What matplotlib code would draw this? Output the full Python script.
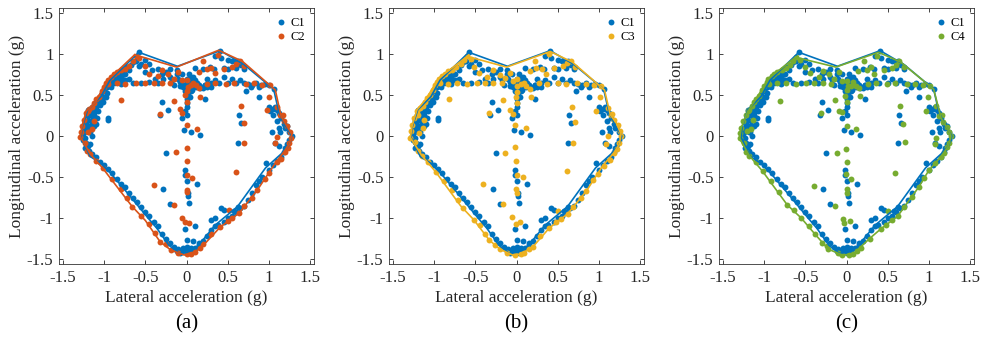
import matplotlib
matplotlib.use("Agg")
import matplotlib.pyplot as plt
import numpy as np

plt.rcParams['font.family'] = 'serif'
plt.rcParams['font.serif'] = ['Liberation Serif', 'Times New Roman', 'DejaVu Serif']
plt.rcParams['axes.unicode_minus'] = False

# ---------------- data ----------------
ticks = [-1.5, -1, -0.5, 0, 0.5, 1, 1.5]
tick_labels = ['-1.5', '-1', '-0.5', '0', '0.5', '1', '1.5']
panel_labels = ['(a)', '(b)', '(c)']
series_names = ['C1', 'C2', 'C3', 'C4']
colors = ['#0072BD', '#D95319', '#EDB120', '#77AC30']

c1_pts = [
    # left boundary cluster
    (-1.27, 0.0), (-1.26, -0.05), (-1.25, 0.05), (-1.24, 0.10), (-1.23, -0.02), (-1.22, 0.15),
    (-1.21, 0.08), (-1.2, 0.2), (-1.19, 0.12), (-1.18, 0.25), (-1.2, -0.12), (-1.18, -0.18),
    (-1.22, -0.08), (-1.17, 0.05), (-1.16, 0.18), (-1.15, 0.28), (-1.14, 0.22), (-1.13, 0.32),
    (-1.12, 0.12), (-1.1, 0.35), (-1.08, 0.40), (-1.06, 0.45), (-1.05, 0.38), (-1.04, 0.50),
    (-1.02, 0.42), (-1.0, 0.55), (-0.98, 0.48), (-0.97, 0.60), (-0.95, 0.62), (-0.93, 0.68),
    (-0.96, 0.22), (-1.18, 0.30), (-1.24, -0.15), (-1.12, 0.25), (-1.07, 0.30), (-1.2, 0.32),
    (-1.1, 0.15), (-1.15, 0.0), (-1.0, 0.48), (-0.99, 0.58),
    (-1.26, 0.02), (-1.23, 0.18), (-1.21, 0.25), (-1.19, 0.05), (-1.17, -0.10), (-1.15, 0.12),
    (-1.11, 0.30), (-1.09, 0.22), (-1.03, 0.45), (-0.97, 0.52), (-0.92, 0.60), (-0.88, 0.65),
    # upper left
    (-0.9, 0.72), (-0.88, 0.70), (-0.85, 0.75), (-0.82, 0.78), (-0.8, 0.72), (-0.78, 0.80),
    (-0.75, 0.76), (-0.72, 0.84), (-0.7, 0.80), (-0.68, 0.86), (-0.65, 0.90), (-0.62, 0.92),
    (-0.58, 1.02), (-0.55, 0.88), (-0.5, 0.93), (-0.85, 0.68), (-0.8, 0.66), (-0.75, 0.68),
    (-0.7, 0.70), (-0.86, 0.72), (-0.78, 0.74),
    # top interior
    (-0.58, 0.85), (-0.5, 0.78), (-0.45, 0.88), (-0.42, 0.80), (-0.38, 0.70), (-0.35, 0.82),
    (-0.3, 0.75), (-0.28, 0.70), (-0.25, 0.78), (-0.2, 0.72), (-0.18, 0.68), (-0.15, 0.62),
    (-0.12, 0.75), (-0.1, 0.70), (-0.08, 0.66), (-0.05, 0.76), (-0.2, 0.82), (-0.12, 0.80),
    (-0.9, 0.64), (-0.8, 0.63), (-0.65, 0.64), (-0.55, 0.65), (-0.45, 0.66), (-0.35, 0.64),
    # central cluster
    (0.0, 0.60), (0.02, 0.62), (0.04, 0.58), (0.01, 0.65), (0.03, 0.70), (0.05, 0.55),
    (0.02, 0.50), (0.0, 0.45), (0.01, 0.40), (0.06, 0.62), (0.08, 0.60), (0.10, 0.63),
    (0.12, 0.60), (0.15, 0.62), (0.18, 0.60), (0.20, 0.58), (-0.02, 0.62), (-0.04, 0.60),
    (0.05, 0.68), (0.08, 0.72), (0.10, 0.68), (0.03, 0.75), (-0.02, 0.55), (0.0, 0.35),
    (0.04, 0.48), (0.07, 0.56), (0.02, 0.58), (0.06, 0.66), (0.13, 0.65), (0.16, 0.58),
    (-0.06, 0.63), (-0.08, 0.61), (0.22, 0.62), (0.25, 0.60), (0.0, 0.52), (0.01, 0.70),
    (0.03, 0.64), (0.05, 0.60),
    # vertical stalk / interior
    (-0.05, 0.22), (0.0, 0.25), (-0.02, 0.30), (0.05, 0.05), (-0.03, 0.07), (-0.02, -0.42),
    (-0.02, -0.47), (0.0, -0.55), (0.02, -0.70), (0.02, -0.73), (0.03, -0.82), (-0.02, -1.13),
    (0.10, -1.10), (0.0, -1.27), (0.13, -0.58), (-0.30, 0.42), (-0.32, 0.25), (-0.22, 0.32),
    (-0.28, -0.65), (-0.25, -0.21), (-0.20, -0.83), (0.17, 0.01), (0.22, 0.45), (-0.95, 0.20),
    # right top
    (0.35, 0.98), (0.42, 0.95), (0.50, 0.93), (0.55, 0.92), (0.60, 0.90), (0.62, 0.92),
    (0.64, 0.88), (0.66, 0.87), (0.41, 1.04), (0.10, 0.83), (0.20, 0.82), (0.28, 0.84),
    (0.33, 0.82), (0.45, 0.83), (0.50, 0.82), (0.60, 0.83), (0.70, 0.82), (0.25, 0.70),
    (0.35, 0.68), (0.45, 0.72), (0.55, 0.70), (0.65, 0.68), (0.30, 0.65), (0.40, 0.64),
    (0.50, 0.64), (0.60, 0.65), (0.70, 0.64), (0.75, 0.63), (0.80, 0.62), (0.85, 0.64),
    (0.90, 0.62), (0.95, 0.63), (1.00, 0.62), (0.30, 0.60), (0.22, 0.62), (0.72, 0.55),
    (0.78, 0.60), (0.88, 0.60), (0.88, 0.48), (1.06, 0.57),
    # right columns / boundary
    (0.64, 0.26), (0.66, 0.16), (0.63, -0.09), (1.04, 0.05), (1.07, -0.09),
    (1.00, 0.35), (1.02, 0.30), (1.05, 0.33), (1.08, 0.35), (1.10, 0.32), (1.12, 0.28),
    (1.05, 0.25), (1.15, 0.22), (1.10, 0.18), (1.18, 0.15), (1.20, 0.10), (1.22, 0.12),
    (1.25, 0.05), (1.28, 0.0), (1.24, -0.05), (1.22, -0.10), (1.20, -0.15), (1.18, -0.20),
    (1.15, -0.25), (1.12, 0.10), (1.14, 0.05), (1.12, -0.12),
    # lower right boundary
    (1.10, -0.30), (1.05, -0.35), (1.00, -0.42), (0.97, -0.33), (0.92, -0.50), (0.88, -0.55),
    (0.85, -0.60), (0.80, -0.70), (0.75, -0.78), (0.70, -0.85), (0.65, -0.88), (0.60, -0.93),
    (0.55, -0.98), (0.50, -1.00), (0.45, -1.05), (0.38, -1.08), (0.35, -1.10), (0.30, -1.15),
    (0.25, -1.22), (0.20, -1.28), (0.15, -1.33), (0.10, -1.37), (0.06, -1.40), (0.42, -0.88),
    (0.45, -0.90), (0.58, -0.92), (0.35, -1.00), (0.30, -1.02), (0.62, -0.86),
    # bottom
    (0.0, -1.42), (0.02, -1.40), (-0.02, -1.38), (-0.05, -1.40), (-0.08, -1.42), (-0.10, -1.38),
    (0.05, -1.36), (-0.15, -1.35), (0.0, -1.35), (0.08, -1.28), (0.15, -1.30), (-0.12, -1.40),
    (0.04, -1.42), (-0.04, -1.36),
    # lower left boundary
    (-0.20, -1.30), (-0.25, -1.26), (-0.30, -1.20), (-0.35, -1.10), (-0.40, -1.05),
    (-0.45, -0.98), (-0.50, -0.93), (-0.55, -0.87), (-0.60, -0.80), (-0.65, -0.75),
    (-0.70, -0.70), (-0.75, -0.62), (-0.80, -0.58), (-0.85, -0.52), (-0.90, -0.45),
    (-0.95, -0.40), (-1.00, -0.35), (-1.05, -0.32), (-1.10, -0.26), (-1.15, -0.22),
]

c2_pts = [
    (-1.29, -0.01), (-1.28, 0.05), (-1.27, 0.12), (-1.25, 0.20), (-1.24, -0.08), (-1.22, 0.28),
    (-1.20, 0.30), (-1.21, -0.18), (-1.18, 0.33), (-1.15, 0.35), (-1.12, 0.40), (-1.10, 0.45),
    (-1.06, 0.48), (-1.03, 0.55), (-1.00, 0.60), (-0.98, 0.65), (-0.95, 0.68), (-0.92, 0.72),
    (-0.88, 0.75), (-0.85, 0.78), (-0.80, 0.80), (-0.75, 0.82), (-0.70, 0.85), (-0.65, 0.92),
    (-0.62, 0.98), (-0.58, 0.95), (-0.80, 0.44), (-1.15, 0.08), (-1.20, 0.05), (-1.13, 0.18),
    (-0.95, 0.63), (-0.85, 0.64), (-0.75, 0.63), (-0.62, 0.64), (-0.50, 0.65), (-0.40, 0.64),
    (-0.30, 0.65), (-0.20, 0.64), (0.25, 0.63), (0.35, 0.64), (0.48, 0.63), (0.58, 0.64),
    (0.72, 0.63), (0.82, 0.64), (0.92, 0.62), (1.02, 0.62),
    (-0.50, 0.85), (-0.45, 0.76), (-0.35, 0.73), (-0.30, 0.80), (-0.22, 0.75), (-0.15, 0.70),
    (-0.10, 0.78), (-0.05, 0.68), (0.0, 0.55), (0.02, 0.60), (0.05, 0.62), (0.0, 0.68),
    (0.08, 0.65), (-0.02, 0.50), (0.0, 0.42), (0.12, 0.62), (0.15, 0.58), (0.25, 0.82),
    (0.30, 0.83), (0.35, 0.77), (0.45, 0.82), (0.55, 0.84), (0.60, 0.88), (0.65, 0.92),
    (0.70, 0.85), (0.15, 0.78), (0.20, 0.92), (0.38, 0.99),
    (-0.15, 0.43), (0.17, 0.48), (-0.32, 0.27), (-0.08, 0.33), (-0.05, 0.28), (0.13, 0.09),
    (0.0, 0.13), (0.0, -0.15), (0.0, -0.31), (-0.13, -0.20), (0.0, -0.47), (0.07, -0.51),
    (-0.40, -0.60), (-0.15, -0.84), (0.0, -0.66), (0.0, -0.68), (-0.05, -1.00), (0.03, -1.06),
    (-0.02, -1.05),
    (0.66, 0.36), (0.70, 0.16), (0.70, -0.09), (0.60, -0.44), (1.00, 0.48), (0.98, 0.32),
    (1.17, 0.26), (1.10, -0.01), (1.08, -0.09),
    (1.10, 0.35), (1.14, 0.25), (1.18, 0.18), (1.22, 0.12), (1.26, 0.05), (1.27, -0.02),
    (1.25, -0.08), (1.23, -0.15), (1.20, -0.20), (1.15, -0.28),
    (1.10, -0.32), (1.00, -0.45), (0.95, -0.52), (0.86, -0.66), (0.80, -0.75), (0.70, -0.85),
    (0.64, -0.94), (0.55, -1.00), (0.50, -1.03), (0.41, -1.11), (0.30, -1.20), (0.20, -1.32),
    (0.17, -1.37), (0.10, -1.41), (0.05, -1.44), (0.52, -0.90),
    (-1.02, -0.39), (-0.90, -0.52), (-0.80, -0.65), (-0.72, -0.75), (-0.66, -0.86),
    (-0.55, -0.97), (-0.45, -1.07), (-0.38, -1.18), (-0.32, -1.29), (-0.25, -1.32),
    (-0.19, -1.39), (-0.10, -1.42), (0.0, -1.44), (-1.10, -0.30), (-1.17, -0.22),
]

c3_pts = [
    (-1.29, -0.02), (-1.28, 0.06), (-1.27, 0.13), (-1.25, 0.22), (-1.24, -0.07), (-1.21, 0.30),
    (-1.20, 0.25), (-1.20, -0.18), (-1.17, 0.34), (-1.14, 0.36), (-1.11, 0.42), (-1.09, 0.46),
    (-1.05, 0.50), (-1.02, 0.56), (-0.99, 0.62), (-0.97, 0.66), (-0.94, 0.70), (-0.90, 0.73),
    (-0.87, 0.76), (-0.83, 0.79), (-0.78, 0.81), (-0.73, 0.84), (-0.68, 0.88), (-0.64, 0.93),
    (-0.60, 0.97), (-0.55, 0.94), (-0.82, 0.45), (-1.14, 0.10), (-1.19, 0.04), (-1.12, 0.20),
    (-0.93, 0.64), (-0.83, 0.63), (-0.72, 0.64), (-0.60, 0.63), (-0.48, 0.65), (-0.38, 0.64),
    (-0.28, 0.64), (-0.18, 0.65), (0.27, 0.64), (0.37, 0.63), (0.50, 0.64), (0.60, 0.63),
    (0.74, 0.64), (0.84, 0.63), (0.94, 0.62), (1.03, 0.61),
    (-0.52, 0.84), (-0.46, 0.77), (-0.36, 0.72), (-0.28, 0.81), (-0.20, 0.74), (-0.14, 0.71),
    (-0.08, 0.77), (-0.04, 0.67), (0.0, 0.54), (0.01, 0.61), (0.05, 0.63), (0.0, 0.69),
    (0.09, 0.64), (-0.01, 0.48), (0.0, 0.40), (0.11, 0.61), (0.16, 0.57), (0.24, 0.83),
    (0.31, 0.82), (0.36, 0.76), (0.46, 0.83), (0.56, 0.85), (0.61, 0.89), (0.66, 0.91),
    (0.71, 0.84), (0.16, 0.79), (0.22, 0.91), (0.39, 1.00),
    (-0.16, 0.44), (0.18, 0.47), (-0.33, 0.28), (-0.08, 0.32), (-0.04, 0.27), (0.12, 0.10),
    (-0.02, 0.14), (-0.02, -0.14), (-0.01, -0.30), (-0.14, -0.21), (0.0, -0.48), (0.08, -0.50),
    (-0.41, -0.58), (-0.16, -0.83), (-0.01, -0.65), (0.0, -0.70), (-0.06, -0.99), (0.04, -1.05),
    (-0.01, -1.07),
    (0.67, 0.35), (0.71, 0.17), (0.69, -0.08), (0.61, -0.43), (1.01, 0.47), (0.97, 0.30),
    (1.16, 0.27), (1.11, 0.0), (1.09, -0.10),
    (1.11, 0.34), (1.15, 0.26), (1.19, 0.19), (1.23, 0.13), (1.26, 0.06), (1.27, 0.0),
    (1.25, -0.09), (1.22, -0.16), (1.19, -0.21), (1.14, -0.29),
    (1.06, -0.36), (0.99, -0.46), (0.93, -0.54), (0.85, -0.67), (0.78, -0.76), (0.69, -0.86),
    (0.62, -0.95), (0.54, -1.01), (0.48, -1.05), (0.40, -1.12), (0.29, -1.22), (0.20, -1.35),
    (0.15, -1.38), (0.09, -1.42), (0.05, -1.44), (0.50, -0.92),
    (-0.98, -0.44), (-0.88, -0.55), (-0.79, -0.66), (-0.71, -0.78), (-0.65, -0.88),
    (-0.52, -1.02), (-0.44, -1.09), (-0.38, -1.19), (-0.33, -1.27), (-0.26, -1.33),
    (-0.20, -1.38), (-0.11, -1.42), (-0.02, -1.45), (-1.08, -0.32), (-1.15, -0.24),
]

c4_pts = [
    (-1.30, -0.03), (-1.29, 0.04), (-1.28, 0.10), (-1.26, 0.18), (-1.25, -0.08), (-1.22, 0.26),
    (-1.20, 0.30), (-1.22, -0.19), (-1.18, 0.32), (-1.15, 0.36), (-1.12, 0.41), (-1.10, 0.45),
    (-1.06, 0.49), (-1.03, 0.56), (-1.00, 0.61), (-0.97, 0.66), (-0.95, 0.70), (-0.91, 0.73),
    (-0.88, 0.76), (-0.84, 0.78), (-0.79, 0.80), (-0.74, 0.83), (-0.69, 0.86), (-0.65, 0.91),
    (-0.62, 0.96), (-0.57, 0.93), (-0.81, 0.43), (-1.16, 0.09), (-1.21, 0.06), (-1.14, 0.19),
    (-0.94, 0.63), (-0.84, 0.64), (-0.74, 0.64), (-0.61, 0.63), (-0.49, 0.64), (-0.39, 0.65),
    (-0.29, 0.64), (-0.19, 0.63), (0.26, 0.63), (0.36, 0.64), (0.49, 0.63), (0.59, 0.64),
    (0.73, 0.63), (0.83, 0.63), (0.93, 0.62), (1.02, 0.61),
    (-0.51, 0.84), (-0.44, 0.77), (-0.34, 0.72), (-0.29, 0.79), (-0.21, 0.76), (-0.15, 0.69),
    (-0.09, 0.78), (-0.05, 0.67), (0.0, 0.56), (0.02, 0.61), (0.05, 0.61), (0.0, 0.67),
    (0.08, 0.66), (-0.02, 0.49), (0.0, 0.41), (0.12, 0.61), (0.15, 0.59), (0.25, 0.81),
    (0.30, 0.84), (0.34, 0.76), (0.45, 0.81), (0.55, 0.83), (0.60, 0.87), (0.64, 0.91),
    (0.70, 0.84), (0.14, 0.79), (0.21, 0.91), (0.37, 0.98),
    (-0.14, 0.44), (0.16, 0.49), (-0.31, 0.28), (-0.09, 0.31), (-0.06, 0.29), (0.12, 0.08),
    (0.0, 0.12), (-0.01, -0.16), (0.0, -0.32), (-0.12, -0.21), (-0.01, -0.46), (0.06, -0.52),
    (-0.40, -0.61), (-0.14, -0.85), (0.0, -0.64), (0.01, -0.69), (-0.04, -1.01), (0.04, -1.04),
    (-0.03, -1.06),
    (0.65, 0.37), (0.69, 0.15), (0.71, -0.07), (0.59, -0.45), (0.99, 0.47), (0.97, 0.31),
    (1.16, 0.25), (1.09, -0.02), (1.07, -0.10),
    (1.09, 0.36), (1.13, 0.24), (1.17, 0.17), (1.22, 0.11), (1.25, 0.05), (1.27, 0.0),
    (1.24, -0.09), (1.22, -0.14), (1.19, -0.21), (1.15, -0.26),
    (1.08, -0.33), (1.00, -0.42), (0.94, -0.51), (0.88, -0.62), (0.80, -0.74), (0.70, -0.87),
    (0.62, -0.98), (0.55, -1.02), (0.48, -1.08), (0.42, -1.13), (0.28, -1.25), (0.18, -1.36),
    (0.13, -1.40), (0.08, -1.44), (0.03, -1.45), (0.51, -0.91),
    (-1.02, -0.43), (-0.92, -0.55), (-0.82, -0.68), (-0.72, -0.84), (-0.64, -0.90),
    (-0.55, -1.00), (-0.46, -1.10), (-0.38, -1.20), (-0.30, -1.30), (-0.24, -1.34),
    (-0.22, -1.38), (-0.10, -1.43), (-0.05, -1.45), (-1.10, -0.32), (-1.18, -0.24),
]

c1_env = [(-0.58, 1.02), (-0.11, 0.85), (0.41, 1.04), (0.70, 0.87), (1.06, 0.57), (1.12, 0.30),
          (1.20, 0.13), (1.28, 0.0), (1.24, -0.12), (1.16, -0.21), (0.96, -0.39), (0.62, -0.86),
          (0.35, -1.085), (0.23, -1.23), (0.15, -1.33), (0.07, -1.39), (0.0, -1.42), (-0.09, -1.43),
          (-0.215, -1.33), (-0.36, -1.125), (-0.50, -0.96), (-0.68, -0.74), (-0.92, -0.455),
          (-1.045, -0.33), (-1.17, -0.25), (-1.28, -0.02), (-1.27, 0.10), (-1.20, 0.32),
          (-1.04, 0.48), (-0.93, 0.68), (-0.58, 1.02)]
c2_env = [(-0.63, 0.99), (-0.12, 0.84), (0.39, 1.045), (0.68, 0.91), (1.08, 0.56), (1.15, 0.24),
          (1.22, 0.12), (1.28, 0.02), (1.25, -0.10), (1.18, -0.20), (1.08, -0.33), (0.86, -0.66),
          (0.64, -0.94), (0.41, -1.11), (0.17, -1.37), (0.05, -1.44), (-0.03, -1.45), (-0.19, -1.39),
          (-0.32, -1.29), (-0.50, -1.03), (-0.66, -0.86), (-1.02, -0.39), (-1.17, -0.22),
          (-1.29, -0.01), (-1.27, 0.12), (-1.22, 0.30), (-1.10, 0.42), (-0.98, 0.66), (-0.63, 0.99)]
c3_env = [(-0.60, 0.97), (-0.12, 0.84), (0.41, 1.03), (0.68, 0.90), (1.07, 0.56), (1.14, 0.26),
          (1.22, 0.15), (1.27, 0.02), (1.25, -0.10), (1.18, -0.21), (1.05, -0.36), (0.85, -0.67),
          (0.62, -0.95), (0.40, -1.12), (0.20, -1.35), (0.05, -1.44), (-0.05, -1.45), (-0.20, -1.38),
          (-0.33, -1.27), (-0.52, -1.02), (-0.68, -0.85), (-0.98, -0.44), (-1.15, -0.24),
          (-1.29, -0.02), (-1.27, 0.12), (-1.21, 0.32), (-1.10, 0.45), (-0.95, 0.70), (-0.60, 0.97)]
c4_env = [(-0.62, 0.96), (-0.13, 0.84), (0.39, 1.02), (0.66, 0.90), (1.06, 0.57), (1.15, 0.22),
          (1.25, 0.05), (1.27, 0.0), (1.24, -0.12), (1.15, -0.25), (1.00, -0.42), (0.88, -0.62),
          (0.62, -0.98), (0.42, -1.13), (0.28, -1.25), (0.08, -1.44), (-0.05, -1.45), (-0.22, -1.38),
          (-0.38, -1.20), (-0.55, -1.00), (-0.72, -0.84), (-1.02, -0.43), (-1.18, -0.24),
          (-1.30, -0.03), (-1.28, 0.10), (-1.20, 0.30), (-1.10, 0.45), (-0.95, 0.70), (-0.62, 0.96)]

others = [(c2_pts, c2_env), (c3_pts, c3_env), (c4_pts, c4_env)]

# ---------------- plot ----------------
W, H = 982, 338
fig = plt.figure(figsize=(W / 100, H / 100), dpi=100)
lefts = [59, 389, 719]
ax_w, ax_top, ax_bot = 255, 8, 264
axcol = '#262626'

for i, (pts, env) in enumerate(others):
    ax = fig.add_axes([lefts[i] / W, (H - ax_bot) / H, ax_w / W, (ax_bot - ax_top) / H])
    p1 = np.array(c1_pts)
    p2 = np.array(pts)
    e1 = np.array(c1_env)
    e2 = np.array(env)
    ax.scatter(p1[:, 0], p1[:, 1], s=18, color=colors[0], linewidths=0, label=series_names[0], zorder=2)
    ax.scatter(p2[:, 0], p2[:, 1], s=18, color=colors[i + 1], linewidths=0, label=series_names[i + 1], zorder=3)
    ax.plot(e1[:, 0], e1[:, 1], color=colors[0], lw=1.2, zorder=4)
    ax.plot(e2[:, 0], e2[:, 1], color=colors[i + 1], lw=1.2, zorder=5)
    ax.set_xlim(-1.55, 1.55)
    ax.set_ylim(-1.56, 1.56)
    ax.set_xticks(ticks)
    ax.set_xticklabels(tick_labels)
    ax.set_yticks(ticks)
    ax.set_yticklabels(tick_labels)
    ax.tick_params(direction='in', length=3, width=0.6, top=True, right=True,
                   labelsize=12, colors=axcol, pad=4)
    for sp in ax.spines.values():
        sp.set_color('#333333')
        sp.set_linewidth(0.6)
    ax.set_xlabel('Lateral acceleration (g)', fontsize=12.5, color=axcol, labelpad=3)
    ax.set_ylabel('Longitudinal acceleration (g)', fontsize=12.5, color=axcol, labelpad=1)
    leg = ax.legend(loc='upper right', frameon=False, fontsize=9, handletextpad=0.2,
                    markerscale=1.0, borderaxespad=0.3, labelspacing=0.15, handlelength=1.2)
    fig.text((lefts[i] + ax_w / 2) / W, 1 - 324 / H, panel_labels[i], ha='center', va='center',
             fontsize=15, color='black')

fig.savefig('out.png', dpi=100)
